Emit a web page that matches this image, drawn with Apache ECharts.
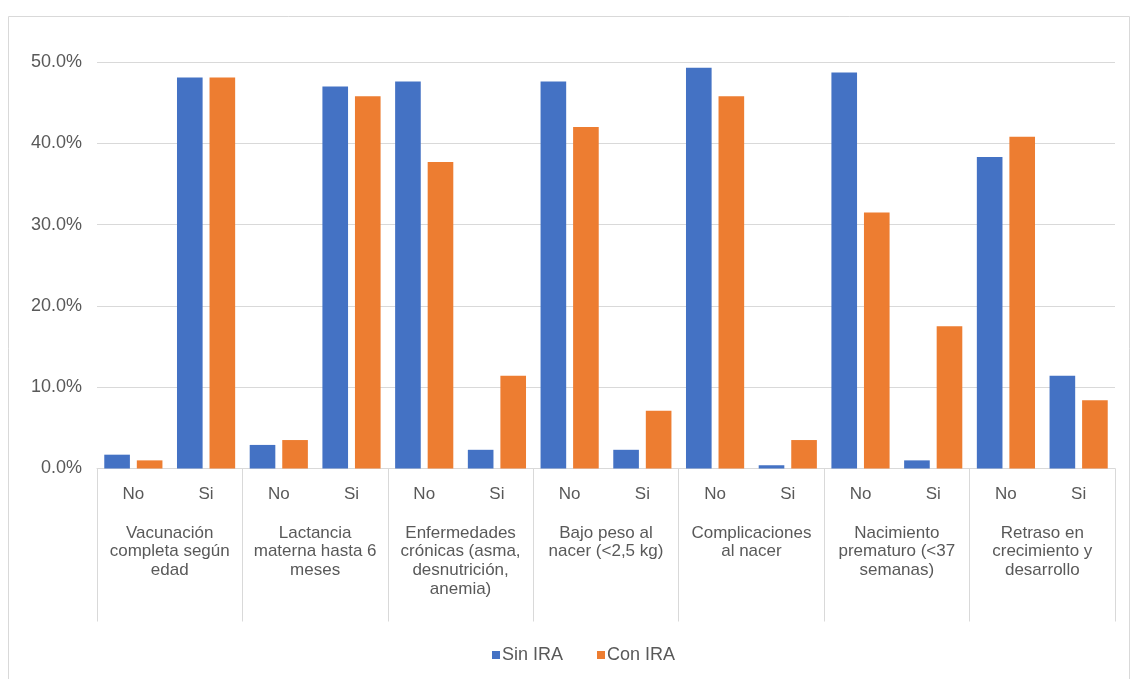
<!DOCTYPE html>
<html>
<head>
<meta charset="utf-8">
<title>Factores de riesgo: Sin IRA / Con IRA</title>
<script src="https://cdn.jsdelivr.net/npm/echarts@6/dist/echarts.min.js"></script>
<style>
  html, body { margin: 0; padding: 0; background: #ffffff; }
  #chart { width: 1131px; height: 679px; }
</style>
</head>
<body>
<div id="chart"></div>
<script>
// Inner categories (one per bar pair) and the factor each pair belongs to
const subCategories = ['No', 'Si', 'No', 'Si', 'No', 'Si', 'No', 'Si', 'No', 'Si', 'No', 'Si', 'No', 'Si'];
const groupLabels = [
  'Vacunación\ncompleta según\nedad',
  'Lactancia\nmaterna hasta 6\nmeses',
  'Enfermedades\ncrónicas (asma,\ndesnutrición,\nanemia)',
  'Bajo peso al\nnacer (<2,5 kg)',
  'Complicaciones\nal nacer',
  'Nacimiento\nprematuro (<37\nsemanas)',
  'Retraso en\ncrecimiento y\ndesarrollo'
];

// Percentages per series
const sinIRA = [1.7, 48.1, 2.9, 47.0, 47.6, 2.3, 47.6, 2.3, 49.3, 0.4, 48.7, 1.0, 38.3, 11.4];
const conIRA = [1.0, 48.1, 3.5, 45.8, 37.7, 11.4, 42.0, 7.1, 45.8, 3.5, 31.5, 17.5, 40.8, 8.4];

// Value axis ticks
const yMin = 0;
const yMax = 50;
const yStep = 10;

const FONT = '"Liberation Sans", Arial, sans-serif';
const TEXT = '#595959';
const LINE = '#d9d9d9';

const chart = echarts.init(document.getElementById('chart'), null, { renderer: 'canvas' });

chart.setOption({
  animation: false,
  backgroundColor: '#ffffff',
  textStyle: { fontFamily: FONT },
  graphic: [{
    type: 'rect',
    shape: { x: 8.5, y: 16.5, width: 1121, height: 700 },
    style: { fill: 'none', stroke: LINE, lineWidth: 1 },
    silent: true,
    z: -1
  }],
  grid: { left: 97, right: 16, top: 62, bottom: 210.5, containLabel: false },
  legend: {
    data: ['Sin IRA', 'Con IRA'],
    left: 487,
    top: 641,
    icon: 'rect',
    itemWidth: 8,
    itemHeight: 8,
    itemGap: 34,
    textStyle: { color: TEXT, fontSize: 18, fontFamily: FONT, padding: [0, 0, 0, -3] }
  },
  xAxis: [
    {
      type: 'category',
      data: subCategories,
      axisLine: { show: true, lineStyle: { color: LINE, width: 1 } },
      axisTick: { show: false },
      axisLabel: {
        interval: 0,
        color: TEXT,
        fontSize: 17,
        fontFamily: FONT,
        margin: 16,
        lineHeight: 19
      },
      splitLine: { show: false }
    },
    {
      type: 'category',
      data: groupLabels,
      position: 'bottom',
      axisLine: { show: false },
      axisTick: {
        show: true,
        interval: 0,
        length: 153,
        lineStyle: { color: LINE, width: 1 }
      },
      axisLabel: {
        interval: 0,
        color: TEXT,
        fontSize: 17,
        fontFamily: FONT,
        margin: 55,
        lineHeight: 18.7,
        align: 'center'
      },
      splitLine: { show: false }
    }
  ],
  yAxis: {
    type: 'value',
    min: yMin,
    max: yMax,
    interval: yStep,
    axisLine: { show: false },
    axisTick: { show: false },
    axisLabel: {
      color: TEXT,
      fontSize: 18,
      fontFamily: FONT,
      margin: 15,
      formatter: v => v.toFixed(1) + '%'
    },
    splitLine: { show: true, lineStyle: { color: LINE, width: 1 } }
  },
  series: [
    {
      name: 'Sin IRA',
      type: 'bar',
      xAxisIndex: 0,
      data: sinIRA,
      itemStyle: { color: '#4472C4' },
      barGap: '27%',
      barCategoryGap: '20%'
    },
    {
      name: 'Con IRA',
      type: 'bar',
      xAxisIndex: 0,
      data: conIRA,
      itemStyle: { color: '#ED7D31' },
      barGap: '27%',
      barCategoryGap: '20%'
    }
  ]
});
</script>
</body>
</html>
